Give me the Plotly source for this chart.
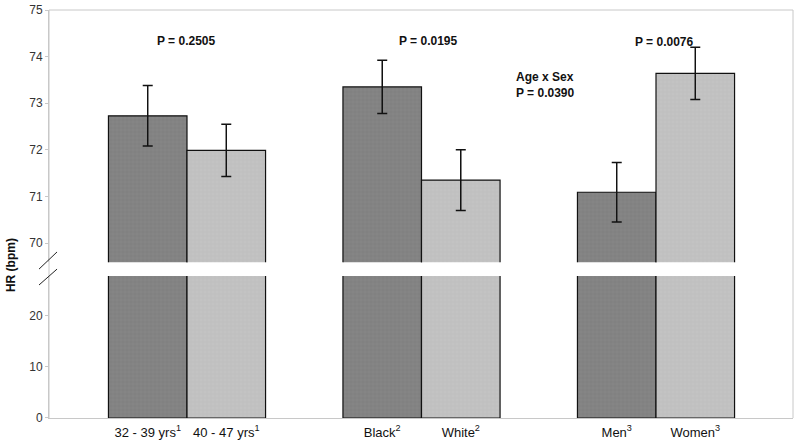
import plotly.graph_objects as go

# ---- data ----
groups = [0, 1, 2]
dark_labels = ["32 - 39 yrs<sup>1</sup>", "Black<sup>2</sup>", "Men<sup>3</sup>"]
light_labels = ["40 - 47 yrs<sup>1</sup>", "White<sup>2</sup>", "Women<sup>3</sup>"]
dark_values = [72.73, 73.35, 71.09]
dark_err = [0.65, 0.57, 0.64]
light_values = [71.99, 71.35, 73.64]
light_err = [0.56, 0.65, 0.56]
p_texts = ["P = 0.2505", "P = 0.0195", "P = 0.0076"]
interaction_text = "Age x Sex<br>P = 0.0390"
upper_ticks = [70, 71, 72, 73, 74, 75]
lower_ticks = [0, 10, 20]

FONT = "Liberation Sans, Arial, sans-serif"
DARK = "#858585"
LIGHT = "#c3c3c3"
AX = "#c8c8c8"

bargap = 0.33
half = (1 - bargap) / 4  # offset of each bar centre from group centre

fig = go.Figure()

def pattern(bg, fg):
    return dict(shape="+", bgcolor=bg, fgcolor=fg, size=4, solidity=0.25, fillmode="replace")

# lower panel (0 - ~28)
fig.add_trace(go.Bar(x=groups, y=dark_values, xaxis="x", yaxis="y",
                     marker=dict(color=DARK, line=dict(color="#111", width=1.2),
                                 pattern=pattern(DARK, "#7c7c7c")),
                     showlegend=False, hoverinfo="skip"))
fig.add_trace(go.Bar(x=groups, y=light_values, xaxis="x", yaxis="y",
                     marker=dict(color=LIGHT, line=dict(color="#111", width=1.2),
                                 pattern=pattern(LIGHT, "#bababa")),
                     showlegend=False, hoverinfo="skip"))
# upper panel (69.6 - 75)
fig.add_trace(go.Bar(x=groups, y=dark_values, xaxis="x", yaxis="y2",
                     marker=dict(color=DARK, line=dict(color="#111", width=1.2),
                                 pattern=pattern(DARK, "#7c7c7c")),
                     error_y=dict(type="data", array=dark_err, color="#111", thickness=1.5, width=5),
                     showlegend=False, hoverinfo="skip"))
fig.add_trace(go.Bar(x=groups, y=light_values, xaxis="x", yaxis="y2",
                     marker=dict(color=LIGHT, line=dict(color="#111", width=1.2),
                                 pattern=pattern(LIGHT, "#bababa")),
                     error_y=dict(type="data", array=light_err, color="#111", thickness=1.5, width=5),
                     showlegend=False, hoverinfo="skip"))

tickvals = []
ticktext = []
for g, dl, ll in zip(groups, dark_labels, light_labels):
    tickvals += [g - half, g + half]
    ticktext += [dl, ll]

fig.update_layout(
    width=800, height=443,
    margin=dict(l=49, r=7, t=10, b=25, autoexpand=False),
    paper_bgcolor="white", plot_bgcolor="rgba(0,0,0,0)",
    barmode="group", bargap=bargap, bargroupgap=0,
    font=dict(family=FONT, size=12, color="#222"),
    xaxis=dict(range=[-0.5885, 2.5842], tickvals=tickvals, ticktext=ticktext, tickangle=0,
               showline=True, linecolor=AX, linewidth=1, showgrid=False, zeroline=False,
               ticks="", anchor="y", automargin=False, ticklabelstandoff=2,
               tickfont=dict(size=13, color="#111")),
    yaxis=dict(domain=[0, 0.348], range=[0, 27.84], tickvals=lower_ticks,
               showline=True, linecolor=AX, linewidth=1, showgrid=False, zeroline=False,
               ticks="outside", ticklen=3, tickcolor=AX, anchor="x", automargin=False,
               tickfont=dict(size=12, color="#333")),
    yaxis2=dict(domain=[0.382, 1], range=[69.59, 75], tickvals=upper_ticks,
                showline=True, linecolor=AX, linewidth=1, showgrid=False, zeroline=False,
                ticks="outside", ticklen=3, tickcolor=AX, anchor="x", automargin=False,
                tickfont=dict(size=12, color="#333")),
)

# plot frame (top/right light grey border) and continuous left axis line
fig.add_shape(type="line", xref="paper", yref="paper", x0=0, x1=1, y0=1, y1=1,
              line=dict(color=AX, width=1))
fig.add_shape(type="line", xref="paper", yref="paper", x0=1, x1=1, y0=0, y1=1,
              line=dict(color=AX, width=1))
fig.add_shape(type="line", xref="paper", yref="paper", x0=0, x1=0, y0=0, y1=1,
              line=dict(color=AX, width=1))
# axis break marks
fig.add_shape(type="line", xref="paper", yref="paper", x0=-0.0134, y0=0.365, x1=0.0108, y1=0.407,
              line=dict(color="#222", width=1))
fig.add_shape(type="line", xref="paper", yref="paper", x0=-0.0134, y0=0.326, x1=0.0108, y1=0.365,
              line=dict(color="#222", width=1))

# annotations
p_pos = [(0.1835, 0.9248), (0.510, 0.9248), (0.827, 0.9216)]
for t, (px, py) in zip(p_texts, p_pos):
    fig.add_annotation(text="<b>%s</b>" % t, x=px, y=py, xref="paper", yref="paper",
                       xanchor="center", yanchor="middle",
                       showarrow=False, font=dict(size=12, color="#111"))
fig.add_annotation(text="<b>%s</b>" % interaction_text.replace("<br>", "</b><br><b>"),
                   x=0.6667, y=0.816, xref="paper", yref="paper", showarrow=False,
                   xanchor="center", yanchor="middle",
                   font=dict(size=12, color="#111"), align="left")
fig.add_annotation(text="<b>HR (bpm)</b>", x=-0.051, y=(418 - 265) / 408, xref="paper", yref="paper",
                   xanchor="center", yanchor="middle", textangle=-90, showarrow=False,
                   font=dict(size=12, color="#111"))

fig.write_html("out.html", config={"displayModeBar": False},
               post_script="document.body.style.margin='0';document.body.style.overflow='hidden';")
